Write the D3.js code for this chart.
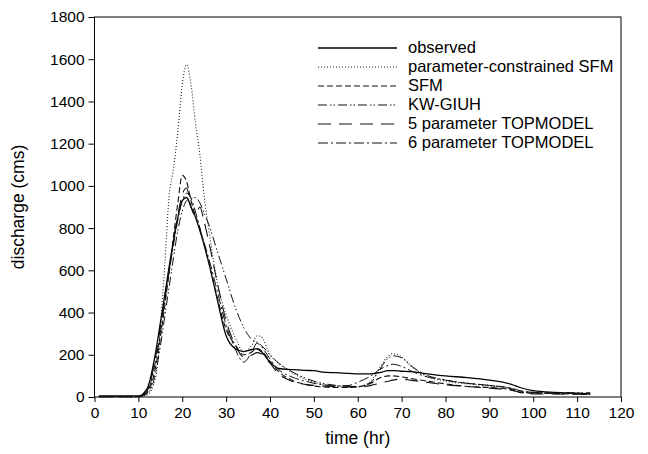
<!DOCTYPE html>
<html>
<head>
<meta charset="utf-8">
<script src="https://cdn.jsdelivr.net/npm/d3@7"></script>
<style>
  body { margin: 0; background: #fff; }
  svg { display: block; font-family: "Liberation Sans", Arial, Helvetica, sans-serif; }
</style>
</head>
<body>
<svg id="chart" width="648" height="454"></svg>
<script>
// time axis shared by every series (hr)
const hours = [1, 10, 12, 14, 15, 16, 17, 18, 19, 20, 21, 22, 23, 24, 25, 26, 28, 30, 32, 34, 36, 37, 38, 40,
  42, 45, 48, 50, 52, 55, 58, 60, 63, 65, 67, 68, 70, 72, 75, 80, 85, 90, 95, 97, 100, 105, 110, 113]

// discharge (cms)
const observed = [5, 5, 40, 220, 350, 480, 616, 740, 850, 930, 945, 900, 853, 790, 720, 640, 460, 290, 230, 215, 225, 228, 215, 165,
  135, 130, 126, 125, 118, 115, 112, 110, 110, 115, 125, 125, 122, 120, 112, 100, 92, 80, 60, 45, 30, 22, 18, 15]
const constrainedSFM = [2, 2, 10, 100, 330, 620, 950, 1080, 1260, 1480, 1575, 1480, 1300, 1150, 950, 800, 540, 390, 285, 215, 250, 290, 285, 200,
  160, 115, 85, 70, 60, 52, 48, 48, 75, 140, 195, 205, 190, 150, 105, 75, 62, 52, 38, 25, 20, 18, 16, 14]
const sfm = [2, 2, 20, 150, 280, 430, 590, 760, 920, 1050, 1020, 930, 860, 800, 720, 640, 470, 320, 250, 200, 215, 230, 220, 170,
  120, 80, 60, 52, 48, 45, 45, 48, 65, 90, 100, 100, 95, 88, 78, 62, 50, 45, 35, 22, 18, 16, 14, 12]
const kwGIUH = [2, 2, 15, 120, 240, 380, 520, 660, 790, 880, 930, 940, 945, 920, 870, 820, 690, 560, 430, 330, 270, 260, 245, 200,
  160, 120, 90, 75, 65, 55, 50, 50, 70, 130, 185, 195, 185, 150, 110, 80, 65, 55, 40, 28, 22, 20, 20, 20]
const topmodel5 = [2, 2, 30, 200, 330, 470, 600, 740, 860, 960, 990, 900, 860, 900, 830, 740, 540, 360, 250, 190, 200, 210, 205, 160,
  110, 75, 60, 55, 52, 50, 48, 48, 55, 65, 75, 80, 85, 80, 72, 58, 50, 42, 32, 22, 15, 14, 13, 12]
const topmodel6 = [2, 2, 25, 180, 300, 450, 590, 720, 840, 930, 965, 940, 880, 800, 730, 660, 500, 340, 230, 165, 220, 255, 240, 180,
  130, 95, 75, 65, 58, 52, 55, 70, 100, 130, 150, 155, 145, 125, 100, 80, 65, 55, 42, 30, 22, 18, 16, 14]

const seriesNames = ["observed", "parameter-constrained SFM", "SFM", "KW-GIUH", "5 parameter TOPMODEL", "6 parameter TOPMODEL"]
const seriesValues = [observed, constrainedSFM, sfm, kwGIUH, topmodel5, topmodel6]

const xTicks = d3.range(0, 121, 10)
const yTicks = d3.range(0, 1801, 200)

// line styles per series
const dashes = ["none", "1,2", "6,3", "9,3,1.5,2,1.5,3", "13,8", "10,3,2,3"]
const strokes = ["#000", "#222", "#111", "#111", "#111", "#111"]
const widths = [1.3, 1.1, 1.1, 1.0, 1.1, 1.0]

const margin = {top: 17, right: 27, bottom: 57, left: 94.5}
const W = 648, H = 454
const pxX = W - margin.left - margin.right,
      pxY = H - margin.top - margin.bottom

let svg = d3.select("#chart")
let g = svg.append("g").attr("transform", `translate(${margin.left} ${margin.top})`)

let scX = d3.scaleLinear().domain([0, 120]).range([0, pxX])
let scY = d3.scaleLinear().domain([0, 1800]).range([pxY, 0])

// axes
let yAxis = d3.axisLeft(scY).tickValues(yTicks).tickFormat(d3.format("d")).tickSize(6).tickPadding(4)
g.append("g").call(yAxis)
  .call(a => a.select(".domain").remove())
  .selectAll("text").attr("font-size", 15.5).attr("fill", "#000").attr("font-family", null)

let xAxis = d3.axisBottom(scX).tickValues(xTicks).tickFormat(d3.format("d")).tickSize(5).tickPadding(5)
g.append("g").attr("transform", `translate(0, ${pxY})`).call(xAxis)
  .call(a => a.select(".domain").remove())
  .selectAll("text").attr("font-size", 15.5).attr("fill", "#000").attr("font-family", null)

g.selectAll(".tick line").attr("stroke", "#000")

// frame
g.append("rect")
  .attr("x", 0).attr("y", 0)
  .attr("width", pxX).attr("height", pxY)
  .attr("fill", "none").attr("stroke", "#000").attr("stroke-width", 1)

// lines
let makeLine = d3.line()
  .defined(d => d != null)
  .x((d, i) => scX(hours[i]))
  .y(d => scY(d))
  .curve(d3.curveMonotoneX)

seriesValues.forEach((vals, idx) => {
  g.append("path")
    .attr("d", makeLine(vals))
    .attr("fill", "none")
    .attr("stroke", strokes[idx])
    .attr("stroke-width", widths[idx])
    .attr("stroke-dasharray", dashes[idx])
})

// axis titles
svg.append("text")
  .attr("x", margin.left + pxX / 2)
  .attr("y", 444)
  .attr("text-anchor", "middle")
  .attr("font-size", 17.5)
  .text("time (hr)")

svg.append("text")
  .attr("transform", `translate(24 ${margin.top + pxY / 2}) rotate(-90)`)
  .attr("text-anchor", "middle")
  .attr("font-size", 17.5)
  .text("discharge (cms)")

// legend
let legend = svg.append("g")
seriesNames.forEach((name, idx) => {
  let ly = 48 + idx * 19
  legend.append("line")
    .attr("x1", 318).attr("x2", 397)
    .attr("y1", ly).attr("y2", ly)
    .attr("stroke", strokes[idx])
    .attr("stroke-width", widths[idx])
    .attr("stroke-dasharray", dashes[idx])
  legend.append("text")
    .attr("x", 408).attr("y", ly + 5)
    .attr("font-size", 16.5)
    .text(name)
})
</script>
</body>
</html>
